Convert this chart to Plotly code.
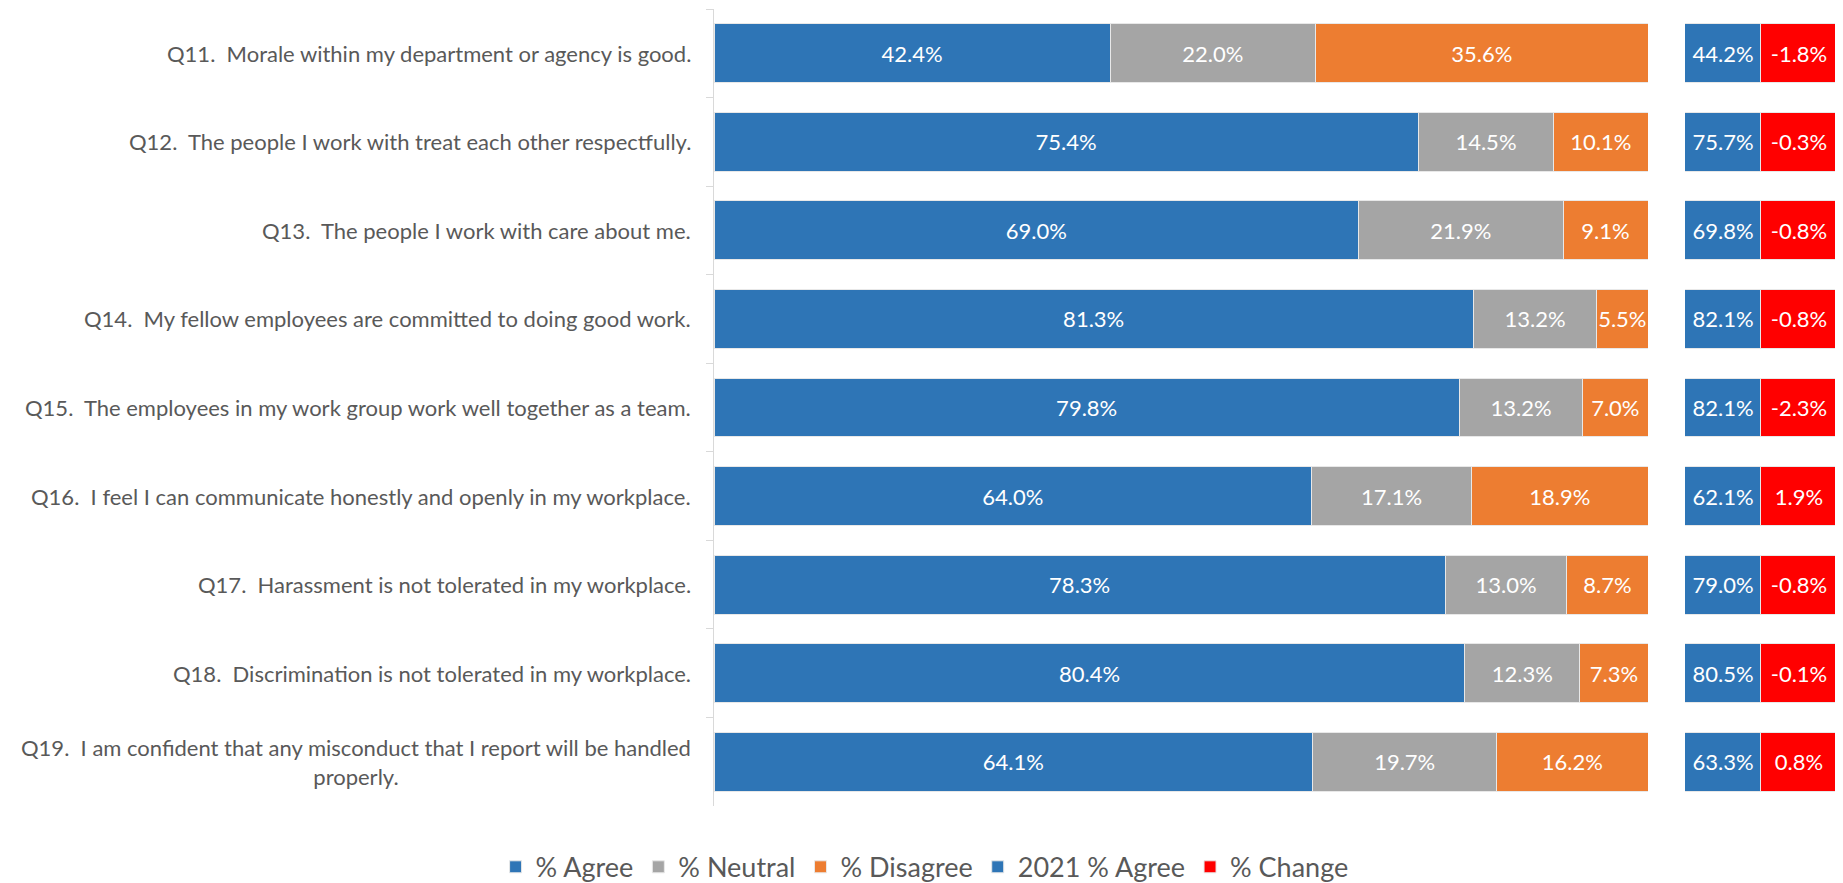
import plotly.graph_objects as go

questions = [
    "Q11.  Morale within my department or agency is good.",
    "Q12.  The people I work with treat each other respectfully.",
    "Q13.  The people I work with care about me.",
    "Q14.  My fellow employees are committed to doing good work.",
    "Q15.  The employees in my work group work well together as a team.",
    "Q16.  I feel I can communicate honestly and openly in my workplace.",
    "Q17.  Harassment is not tolerated in my workplace.",
    "Q18.  Discrimination is not tolerated in my workplace.",
    "Q19.  I am confident that any misconduct that I report will be handled<br>properly.",
]
agree = [42.4, 75.4, 69.0, 81.3, 79.8, 64.0, 78.3, 80.4, 64.1]
neutral = [22.0, 14.5, 21.9, 13.2, 13.2, 17.1, 13.0, 12.3, 19.7]
disagree = [35.6, 10.1, 9.1, 5.5, 7.0, 18.9, 8.7, 7.3, 16.2]
agree_2021 = [44.2, 75.7, 69.8, 82.1, 82.1, 62.1, 79.0, 80.5, 63.3]
change = [-1.8, -0.3, -0.8, -0.8, -2.3, 1.9, -0.8, -0.1, 0.8]

BLUE = "#2E75B6"
GRAY = "#A5A5A5"
ORANGE = "#ED7D31"
RED = "#FF0000"
FONT = "Lato"
TEXT_GRAY = "#595959"
BAR_FONT = 22

cats = [q.split(".")[0] for q in questions]

fig = go.Figure()

for name, vals, color in [("% Agree", agree, BLUE), ("% Neutral", neutral, GRAY), ("% Disagree", disagree, ORANGE)]:
    fig.add_trace(go.Bar(
        name=name, y=cats, x=vals, orientation="h",
        marker=dict(color=color, line=dict(color="#E8E8E8", width=1)),
        texttemplate="%{x:.1f}%", textposition="inside", insidetextanchor="middle", textangle=0,
        textfont=dict(color="white", size=BAR_FONT, family=FONT),
    ))

# right-hand panel: equal-width boxes showing last year's agree and the change
for name, vals, color in [("2021 % Agree", agree_2021, BLUE), ("% Change", change, RED)]:
    fig.add_trace(go.Bar(
        name=name, y=cats, x=[1] * len(cats), orientation="h", xaxis="x2",
        marker=dict(color=color, line=dict(color="#E8E8E8", width=1)),
        text=[f"{v:.1f}%" for v in vals], textposition="inside", insidetextanchor="middle", textangle=0,
        textfont=dict(color="white", size=BAR_FONT, family=FONT),
        hovertemplate="%{text}<extra>" + name + "</extra>",
    ))

for cat, q in zip(cats, questions):
    fig.add_annotation(
        x=0, xref="paper", y=cat, yref="y", xanchor="right", xshift=-21,
        text=q.replace("  ", " \u00a0"), showarrow=False,
        align="center" if "<br>" in q else "right",
        font=dict(family=FONT, size=22, color=TEXT_GRAY),
    )

# page body adds an 8px margin, so the figure is sized/offset to compensate
fig.update_layout(
    barmode="stack", bargap=0.334,
    width=1835, height=875,
    margin=dict(l=706, r=6, t=1, b=77, autoexpand=False),
    paper_bgcolor="white", plot_bgcolor="white",
    font=dict(family=FONT, color=TEXT_GRAY),
    uniformtext=dict(minsize=BAR_FONT, mode="show"),
    xaxis=dict(domain=[0, 0.8317], range=[0, 100], visible=False),
    xaxis2=dict(domain=[0.8646, 1], range=[0, 2], visible=False, anchor="y"),
    yaxis=dict(
        autorange="reversed", showticklabels=False, showline=True, linecolor="#D9D9D9",
        ticks="outside", tickson="boundaries", ticklen=7, tickcolor="#D9D9D9",
        showgrid=False, zeroline=False,
    ),
    legend=dict(
        orientation="h", xref="container", yref="container", x=0.4995, y=0.018,
        xanchor="center", yanchor="middle", itemwidth=30,
        font=dict(family=FONT, size=27, color=TEXT_GRAY),
        traceorder="normal",
    ),
)

fig.write_html("out.html")
